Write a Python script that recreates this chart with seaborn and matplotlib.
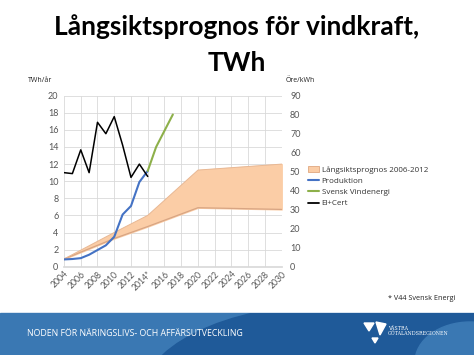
import matplotlib
matplotlib.use("Agg")
import matplotlib.pyplot as plt
import matplotlib.patches as mpatches
from matplotlib.lines import Line2D
import seaborn as sns
import pandas as pd

sns.set_theme(style="white")
plt.rcParams['font.family'] = ['Lato', 'DejaVu Sans']

# ---- data ----
years_hist = [2004, 2005, 2006, 2007, 2008, 2009, 2010, 2011, 2012, 2013, 2014]
produktion = [0.85, 0.9, 1.0, 1.4, 1.95, 2.5, 3.5, 6.1, 7.1, 9.9, 11.2]
elcert_ore = [49.5, 49.0, 61.5, 49.5, 76.0, 70.0, 79.0, 64.0, 47.0, 54.0, 47.5]
years_svind = [2014, 2015, 2016, 2017]
svensk_vind = [11.2, 14.0, 15.9, 17.8]
band_years = [2004, 2010, 2014, 2020, 2030]
band_low = [0.9, 3.3, 4.7, 6.9, 6.7]
band_high = [0.9, 4.0, 6.0, 11.3, 12.0]
xtick_years = list(range(2004, 2031, 2))
xtick_labels = [("2014*" if y == 2014 else str(y)) for y in xtick_years]

df_prod = pd.DataFrame({"year": years_hist, "value": produktion})
df_el = pd.DataFrame({"year": years_hist, "value": elcert_ore})
df_sv = pd.DataFrame({"year": years_svind, "value": svensk_vind})

fig = plt.figure(figsize=(4.74, 3.55), dpi=100)
fig.patch.set_facecolor("white")

# footer band
fax = fig.add_axes([0, 0, 1, 1], zorder=-5)
fax.set_xlim(0, 474); fax.set_ylim(355, 0); fax.axis("off")
band = mpatches.Rectangle((0, 313), 474, 42, color="#3a78b3")
fax.add_patch(band)
for p in [mpatches.Ellipse((330, 400), 380, 190, color="#1f5a99"),
          mpatches.Rectangle((380, 313), 94, 42, color="#1f5a99"),
          mpatches.Ellipse((470, 362), 110, 80, color="#3a78b3")]:
    fax.add_patch(p)
    p.set_clip_path(band)
fax.text(27, 334, "NODEN FÖR NÄRINGSLIVS- OCH AFFÄRSUTVECKLING", color="white",
         fontsize=6.3, va="center", ha="left", family=["Open Sans", "DejaVu Sans"])
fax.text(388, 331, "VÄSTRA\nGÖTALANDSREGIONEN", color="white", fontsize=3.4,
         va="center", ha="left", family="DejaVu Serif", linespacing=1.0)
fax.add_patch(mpatches.Polygon([[364, 323], [374, 323], [369, 331]], color="white"))
fax.add_patch(mpatches.Polygon([[372, 338], [378, 338], [375, 343]], color="white"))
fax.add_patch(mpatches.Polygon([[376, 322], [386, 324], [380, 335]], color="white"))

fig.text(0.5, 1 - 35 / 355, "Långsiktsprognos för vindkraft,", ha="center", va="baseline",
         fontsize=19, fontweight="bold", color="black")
fig.text(0.5, 1 - 71 / 355, "TWh", ha="center", va="baseline",
         fontsize=19, fontweight="bold", color="black")
fig.text(455 / 474, 1 - 299 / 355, "* V44 Svensk Energi", ha="right", va="center",
         fontsize=5.2, color="#222222", family=["Open Sans", "DejaVu Sans"])

ax = fig.add_axes([64 / 474, 1 - 266.7 / 355, (281.7 - 64) / 474, (266.7 - 95.7) / 355])
ax.set_xlim(2004, 2030)
ax.set_ylim(0, 20)
ax.set_xticks(xtick_years)
ax.set_xticklabels(xtick_labels, rotation=45, ha="right", rotation_mode="anchor",
                   fontsize=6.2, color="#555555")
ax.set_yticks(range(0, 21, 2))
ax.tick_params(axis="y", labelsize=6.5, labelcolor="#555555", length=0, pad=4)
ax.tick_params(axis="x", length=0, pad=2)
ax.grid(True, color="#d9d9d9", linewidth=0.6)
for s in ax.spines.values():
    s.set_visible(False)
ax.spines["bottom"].set_visible(True)
ax.spines["bottom"].set_color("#d9d9d9")

ax.fill_between(band_years, band_low, band_high, color="#fbcda6", zorder=2)
ax.plot(band_years, band_low, color="#d8a583", lw=0.9, zorder=2)
ax.plot(band_years, band_high, color="#e8b894", lw=0.7, zorder=2)
ax.plot([2030, 2030], [band_low[-1], band_high[-1]], color="#e8b894", lw=0.7, zorder=2)

sns.lineplot(data=df_prod, x="year", y="value", ax=ax, color="#4472c4", lw=1.5, zorder=4)
sns.lineplot(data=df_sv, x="year", y="value", ax=ax, color="#8db04a", lw=1.5, zorder=4)
ax.set_xlabel(""); ax.set_ylabel("")

ax2 = ax.twinx()
ax2.set_ylim(0, 90)
ax2.set_yticks(range(0, 91, 10))
sns.lineplot(data=df_el, x="year", y="value", ax=ax2, color="black", lw=1.1, zorder=5)
ax2.set_ylabel(""); ax2.set_xlabel("")
ax2.tick_params(axis="y", labelsize=6.5, labelcolor="#555555", length=0, pad=6)
for s in ax2.spines.values():
    s.set_visible(False)
ax2.grid(False)
ax2.set_xlim(2004, 2030)

fig.text(40 / 474, 1 - 81 / 355, "TWh/år", fontsize=5, ha="center", va="center", color="#222222",
         family=["Open Sans", "DejaVu Sans"])
fig.text(300 / 474, 1 - 81 / 355, "Öre/kWh", fontsize=5, ha="center", va="center", color="#222222",
         family=["Open Sans", "DejaVu Sans"])

handles = [mpatches.Patch(facecolor="#fbcda6", edgecolor="#e0a880", lw=0.6),
           Line2D([], [], color="#4472c4", lw=1.5),
           Line2D([], [], color="#8db04a", lw=1.5),
           Line2D([], [], color="black", lw=1.3)]
labels = ["Långsiktsprognos 2006-2012", "Produktion", "Svensk Vindenergi", "El+Cert"]
fig.legend(handles, labels, loc="upper left", bbox_to_anchor=(308 / 474, 1 - 166 / 355),
           frameon=False, handlelength=1.4, handletextpad=0.3,
           labelspacing=0.45, borderaxespad=0, borderpad=0, labelcolor="#333333",
           prop={"family": ["Open Sans", "DejaVu Sans"], "size": 5.8})

fig.savefig("out.png", dpi=100, facecolor="white")
